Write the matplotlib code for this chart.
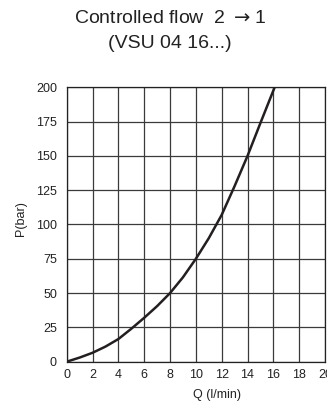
import matplotlib
matplotlib.use('Agg')
import matplotlib.pyplot as plt

# Q (l/min) -> P (bar)
flow = [0, 1, 2, 3, 4, 5, 6, 7, 8, 9, 10, 11, 12, 13, 14, 15, 16.1]
pressure = [0, 3, 6.5, 11, 16.5, 24, 32, 40.5, 50, 61.5, 75, 90, 107, 128, 150, 174, 200]

x_ticks = [0, 2, 4, 6, 8, 10, 12, 14, 16, 18, 20]
y_ticks = [0, 25, 50, 75, 100, 125, 150, 175, 200]

plt.rcParams['font.family'] = ['Liberation Sans', 'DejaVu Sans']

fig = plt.figure(figsize=(3.27, 4.03), dpi=100)
ax = fig.add_axes([0.204, 0.1025, 0.79, 0.681])

ax.plot(flow, pressure, color='#231f20', lw=1.8, solid_capstyle='round', zorder=3)

ax.set_xlim(0, 20)
ax.set_ylim(0, 200)
ax.set_xticks(x_ticks)
ax.set_yticks(y_ticks)
ax.grid(True, color='#3a3a3a', lw=0.9)
ax.tick_params(length=0, labelsize=9, colors='#222222')
ax.tick_params(axis='y', pad=7)
ax.tick_params(axis='x', pad=5)
for sp in ax.spines.values():
    sp.set_color('#222222')
    sp.set_linewidth(0.9)

ax.set_xlabel('Q (l/min)', fontsize=9, color='#222222')
ax.xaxis.set_label_coords(0.58, -0.1)
ax.set_ylabel('P(bar)', fontsize=9, color='#222222')
ax.yaxis.set_label_coords(-0.155, 0.52)

fig.text(0.52, 0.955, 'Controlled flow  2 $\\rightarrow$1', ha='center', va='center',
         fontsize=14, color='#222222')
fig.text(0.52, 0.893, '(VSU 04 16...)', ha='center', va='center',
         fontsize=14, color='#222222')

fig.savefig('out.png', dpi=100)
